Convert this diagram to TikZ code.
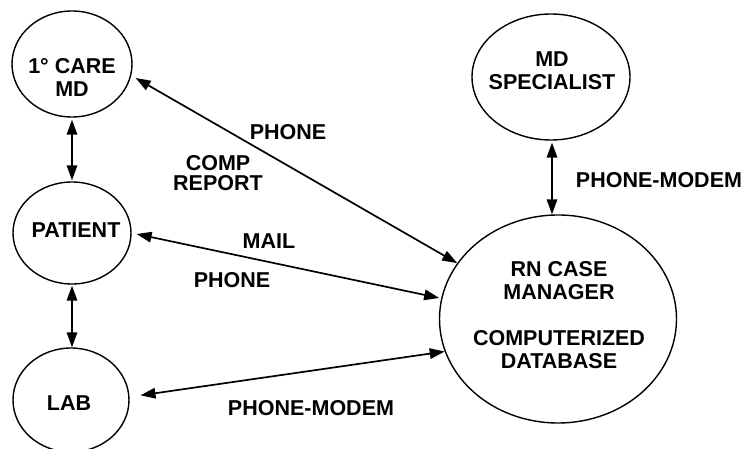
\documentclass[tikz,border=0pt]{standalone}
\usepackage{fontspec}
\setmainfont{Liberation Sans}
\usetikzlibrary{shapes.geometric,arrows.meta}
\begin{document}
\begin{tikzpicture}[x=1pt,y=-1pt,
  txt/.style={font=\fontsize{21.5}{23}\selectfont\bfseries, align=center, inner sep=0pt},
  bubble/.style={ellipse, draw, line width=1.4pt, inner sep=0pt},
  tip/.style={Triangle[length=15pt,width=10.5pt]},
  link/.style={line width=1.7pt, {Triangle[length=15pt,width=10.5pt]}-{Triangle[length=15pt,width=10.5pt]}}]
\useasboundingbox (0,0) rectangle (746,449);

% actors
\node[bubble, minimum width=120pt, minimum height=106pt] (care) at (72,64) {};
\node[bubble, minimum width=118pt, minimum height=102pt] (patient) at (72,233) {};
\node[bubble, minimum width=116pt, minimum height=104pt] (lab) at (71,400) {};
\node[bubble, minimum width=158pt, minimum height=126pt] (md) at (551,77) {};
\node[bubble, minimum width=237pt, minimum height=208pt] (rn) at (558,319) {};

\node[txt] (careT) at (72,77) {1° CARE\\MD};
\node[txt] (patientT) at (76,230) {PATIENT};
\node[txt] (labT) at (69,403) {LAB};
\node[txt] (mdT) at (552,71) {MD\\SPECIALIST};
\node[txt] (rnT) at (559,315) {RN CASE\\MANAGER\\[23pt]COMPUTERIZED\\DATABASE};

% communication links
\draw[link, shorten <=2pt, shorten >=1pt] (care.south) -- (patient.north);
\draw[link, shorten <=1pt] (patient.south) -- (patient.south |- lab.north);
\draw[link, shorten <=2pt] (md.south -| 552,0) -- (552,0 |- rn.north);
\draw[link, shorten <=5pt] (care.-11) -- (rn.151);
\draw[link, shorten <=5pt, shorten >=2pt] (patient.0) -- (rn.170);
\draw[link, shorten <=11pt] (lab.3) -- (rn.-164);

% link labels
\node[txt] (l1) at (288,132) {PHONE};
\node[txt, font=\fontsize{21.5}{20}\selectfont\bfseries] (l2) at (218,173) {COMP\\REPORT};
\node[txt] (l3) at (269,241) {MAIL};
\node[txt] (l4) at (232,280) {PHONE};
\node[txt] (l5) at (311,408) {PHONE-MODEM};
\node[txt] (l6) at (659,180) {PHONE-MODEM};
\end{tikzpicture}
\end{document}
